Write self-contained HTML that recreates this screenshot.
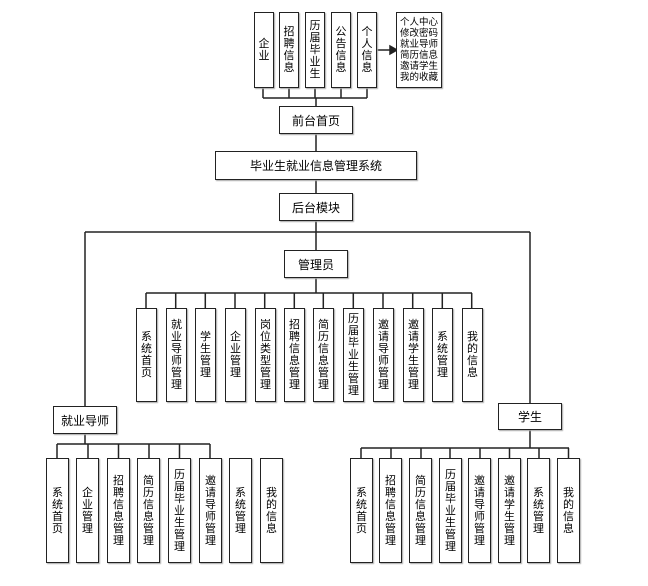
<!DOCTYPE html>
<html><head><meta charset="utf-8"><style>
html,body{margin:0;padding:0;background:#fff;}
body{width:648px;height:586px;position:relative;overflow:hidden;font-family:"Liberation Sans","Noto Sans CJK SC",sans-serif;color:#000;}
.b{position:absolute;box-sizing:border-box;border:1.5px solid #222;background:#fff;display:flex;align-items:center;justify-content:center;text-align:center;box-shadow:1px 1px 1px #aaa;}
.v{font-size:11px;line-height:12px;}
.v span{display:block;width:12px;word-break:break-all;}
.h{font-size:12px;}
svg{position:absolute;left:0;top:0;}
</style></head><body>
<svg width="648" height="586" stroke="#222" stroke-width="1.5" fill="none">
<path d="M263 88V98M289 88V98M315 88V98M341 88V98M367 88V98M263 98H367M316 98V106M316 134V151M316 180V193M316 221V250M85 232H530M85 232V406M530 232V403"/>
<path d="M377 50H390"/><polygon points="390,46 397,50 390,54" fill="#222"/>
<path d="M316 278V293M146 293H472M146 293V308M175.7 293V308M205.3 293V308M235 293V308M264.7 293V308M294.3 293V308M323.3 293V308M353.3 293V308M383 293V308M412.7 293V308M442.3 293V308M471.7 293V308"/>
<path d="M85 434V444M57 444H210M57 444V458M88 444V458M118.5 444V458M149 444V458M179.5 444V458M210 444V458"/>
<path d="M530 430V448M361 448H569M361 448V458M391 448V458M421 448V458M450 448V458M480 448V458M509.5 448V458M539 448V458M568.5 448V458"/>
</svg>

<div class="b v" style="left:254px;top:12px;width:20px;height:76px"><span>企业</span></div>
<div class="b v" style="left:279px;top:12px;width:20px;height:76px"><span>招聘信息</span></div>
<div class="b v" style="left:305px;top:12px;width:20px;height:76px"><span>历届毕业生</span></div>
<div class="b v" style="left:331px;top:12px;width:20px;height:76px"><span>公告信息</span></div>
<div class="b v" style="left:357px;top:12px;width:20px;height:76px"><span>个人信息</span></div>
<div class="b" style="left:396px;top:12px;width:46px;height:76px;font-size:9.5px;line-height:11px">个人中心<br>修改密码<br>就业导师<br>简历信息<br>邀请学生<br>我的收藏</div>

<div class="b h" style="left:279px;top:106px;width:74px;height:28px">前台首页</div>
<div class="b h" style="left:215px;top:151px;width:202px;height:29px">毕业生就业信息管理系统</div>
<div class="b h" style="left:279px;top:193px;width:74px;height:28px">后台模块</div>
<div class="b h" style="left:284px;top:250px;width:64px;height:28px">管理员</div>

<div class="b v" style="left:136px;top:308px;width:21px;height:94px"><span>系统首页</span></div>
<div class="b v" style="left:166px;top:308px;width:21px;height:94px"><span>就业导师管理</span></div>
<div class="b v" style="left:195px;top:308px;width:21px;height:94px"><span>学生管理</span></div>
<div class="b v" style="left:225px;top:308px;width:21px;height:94px"><span>企业管理</span></div>
<div class="b v" style="left:255px;top:308px;width:21px;height:94px"><span>岗位类型管理</span></div>
<div class="b v" style="left:284px;top:308px;width:21px;height:94px"><span>招聘信息管理</span></div>
<div class="b v" style="left:313px;top:308px;width:21px;height:94px"><span>简历信息管理</span></div>
<div class="b v" style="left:343px;top:308px;width:21px;height:94px"><span>历届毕业生管理</span></div>
<div class="b v" style="left:373px;top:308px;width:21px;height:94px"><span>邀请导师管理</span></div>
<div class="b v" style="left:403px;top:308px;width:21px;height:94px"><span>邀请学生管理</span></div>
<div class="b v" style="left:432px;top:308px;width:21px;height:94px"><span>系统管理</span></div>
<div class="b v" style="left:462px;top:308px;width:21px;height:94px"><span>我的信息</span></div>

<div class="b h" style="left:53px;top:406px;width:64px;height:28px">就业导师</div>
<div class="b v" style="left:46px;top:458px;width:23px;height:105px"><span>系统首页</span></div>
<div class="b v" style="left:76px;top:458px;width:23px;height:105px"><span>企业管理</span></div>
<div class="b v" style="left:107px;top:458px;width:23px;height:105px"><span>招聘信息管理</span></div>
<div class="b v" style="left:137px;top:458px;width:23px;height:105px"><span>简历信息管理</span></div>
<div class="b v" style="left:168px;top:458px;width:23px;height:105px"><span>历届毕业生管理</span></div>
<div class="b v" style="left:199px;top:458px;width:23px;height:105px"><span>邀请导师管理</span></div>
<div class="b v" style="left:229px;top:458px;width:23px;height:105px"><span>系统管理</span></div>
<div class="b v" style="left:260px;top:458px;width:23px;height:105px"><span>我的信息</span></div>

<div class="b h" style="left:498px;top:403px;width:64px;height:27px">学生</div>
<div class="b v" style="left:350px;top:458px;width:23px;height:105px"><span>系统首页</span></div>
<div class="b v" style="left:379px;top:458px;width:23px;height:105px"><span>招聘信息管理</span></div>
<div class="b v" style="left:409px;top:458px;width:23px;height:105px"><span>简历信息管理</span></div>
<div class="b v" style="left:439px;top:458px;width:23px;height:105px"><span>历届毕业生管理</span></div>
<div class="b v" style="left:468px;top:458px;width:23px;height:105px"><span>邀请导师管理</span></div>
<div class="b v" style="left:498px;top:458px;width:23px;height:105px"><span>邀请学生管理</span></div>
<div class="b v" style="left:527px;top:458px;width:23px;height:105px"><span>系统管理</span></div>
<div class="b v" style="left:557px;top:458px;width:23px;height:105px"><span>我的信息</span></div>
</body></html>
